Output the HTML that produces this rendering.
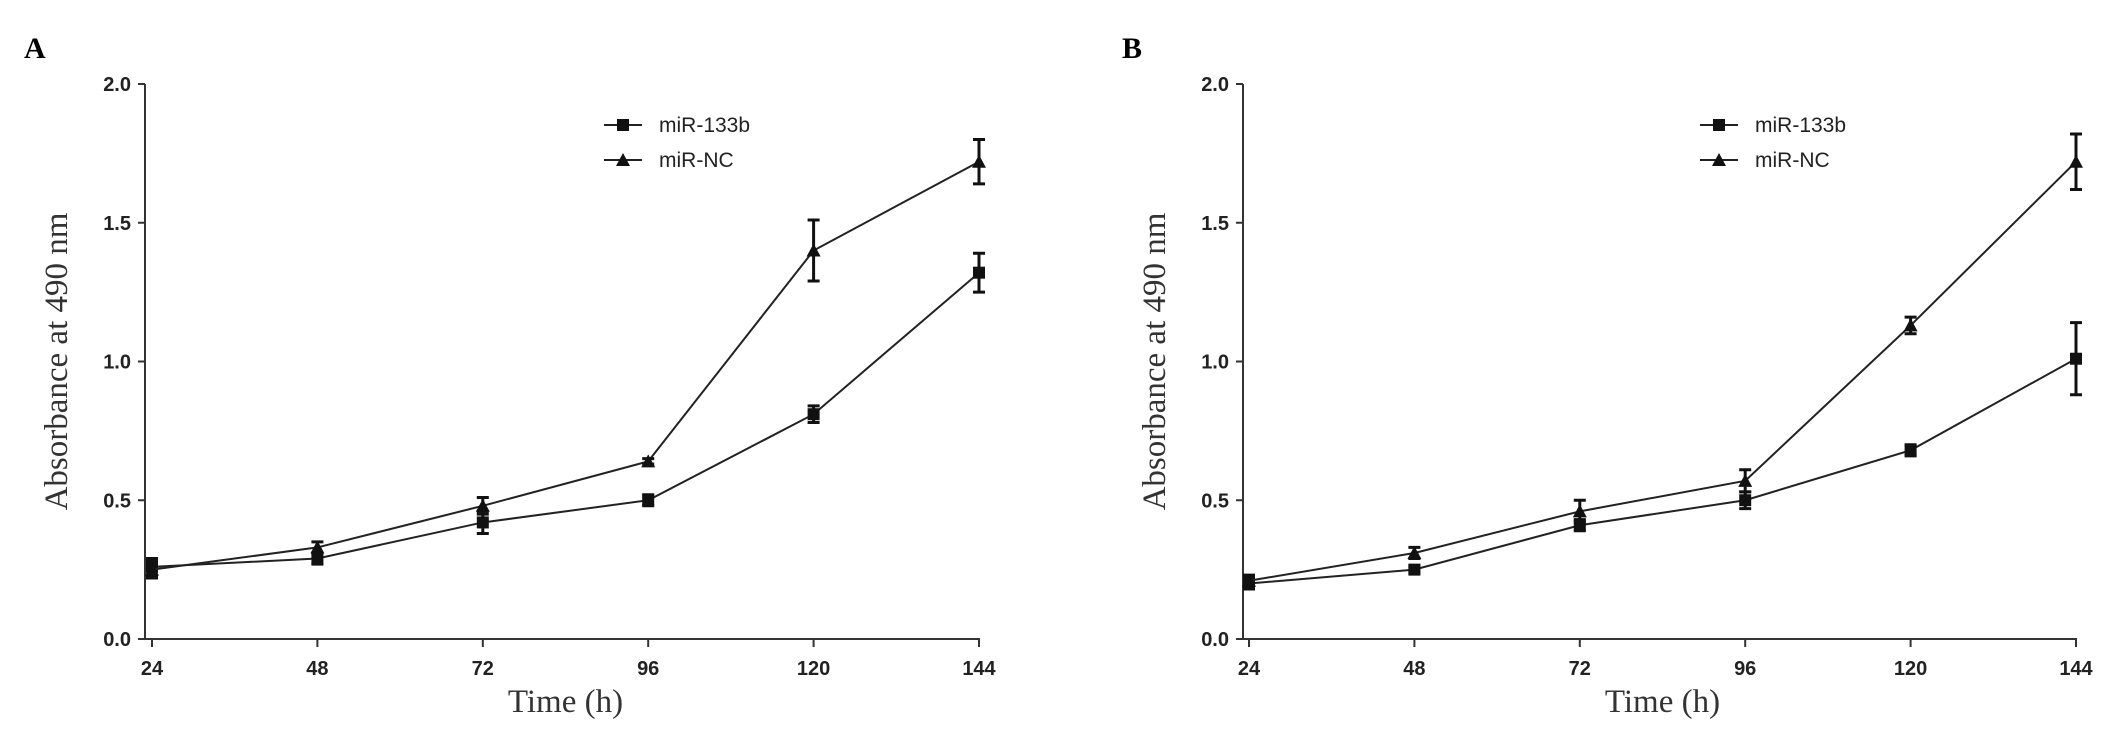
<!DOCTYPE html>
<html><head><meta charset="utf-8"><style>
html,body{margin:0;padding:0;background:#fff;}
svg{display:block;}
.tk{font-family:"Liberation Sans",sans-serif;font-weight:bold;font-size:20px;fill:#222;}
.tt{font-family:"Liberation Serif",serif;font-size:33px;fill:#333;}
.lg{font-family:"Liberation Sans",sans-serif;font-size:21px;fill:#222;}
.pl{font-family:"Liberation Serif",serif;font-weight:bold;font-size:30px;fill:#000;}
</style></head><body>
<svg id="chart" width="2126" height="732" viewBox="0 0 2126 732" xmlns="http://www.w3.org/2000/svg"></svg>
<script>
const categories = [24, 48, 72, 96, 120, 144];
const yTicks = [0.0, 0.5, 1.0, 1.5, 2.0];
const yTickLabels = ["0.0", "0.5", "1.0", "1.5", "2.0"];
const seriesNames = ["miR-133b", "miR-NC"];
const a133b = [0.26, 0.29, 0.42, 0.50, 0.81, 1.32];
const a133bErr = [0.03, 0.02, 0.04, 0.02, 0.03, 0.07];
const aNC = [0.25, 0.33, 0.48, 0.64, 1.40, 1.72];
const aNCErr = [0.03, 0.02, 0.03, 0.01, 0.11, 0.08];
const b133b = [0.20, 0.25, 0.41, 0.50, 0.68, 1.01];
const b133bErr = [0.02, 0.01, 0.02, 0.03, 0.02, 0.13];
const bNC = [0.21, 0.31, 0.46, 0.57, 1.13, 1.72];
const bNCErr = [0.02, 0.02, 0.04, 0.04, 0.03, 0.10];

const svg = document.getElementById('chart');
const NS = 'http://www.w3.org/2000/svg';
function mk(tag, attrs, parent) {
  const e = document.createElementNS(NS, tag);
  for (const k in attrs) e.setAttribute(k, attrs[k]);
  parent.appendChild(e);
  return e;
}

function panel(label, axisX, x0, x1, legX, s1, e1, s2, e2, key) {
  const yTop = 84, yBot = 639;
  const g = mk('g', {}, svg);
  
  
  const xs = v => x0 + (v - 24) / 120 * (x1 - x0);
  const ys = v => yBot - v / 2 * (yBot - yTop);

  const pl = mk('text', {x: axisX - 121, y: 58, class: 'pl'}, g);
  pl.textContent = label;
  
  

  const ya = mk('line', {x1: axisX, y1: yTop, x2: axisX, y2: yBot, stroke: '#333', 'stroke-width': 2}, g);
  
  
  const xa = mk('line', {x1: axisX, y1: yBot, x2: x1 + 1, y2: yBot, stroke: '#333', 'stroke-width': 2}, g);
  
  

  yTicks.forEach((t, i) => {
    mk('line', {x1: axisX - 7, y1: ys(t), x2: axisX, y2: ys(t), stroke: '#333', 'stroke-width': 2}, g);
    const tx = mk('text', {x: axisX - 14, y: ys(t) + 7, class: 'tk', 'text-anchor': 'end'}, g);
    tx.textContent = yTickLabels[i];
    
    
  });
  categories.forEach(c => {
    mk('line', {x1: xs(c), y1: yBot, x2: xs(c), y2: yBot + 8, stroke: '#333', 'stroke-width': 2}, g);
    const tx = mk('text', {x: xs(c), y: yBot + 36, class: 'tk', 'text-anchor': 'middle'}, g);
    tx.textContent = String(c);
    
    
  });

  const yt = mk('text', {x: 0, y: 0, class: 'tt', 'text-anchor': 'middle', transform: `translate(${axisX - 78},${(yTop + yBot) / 2 + 0}) rotate(-90)`}, g);
  yt.textContent = 'Absorbance at 490 nm';
  
  
  const xt = mk('text', {x: (x0 + x1) / 2, y: 712, class: 'tt', 'text-anchor': 'middle'}, g);
  xt.textContent = 'Time (h)';
  
  

  function marker(type, cx, cy, parent) {
    if (type === 0) return mk('rect', {x: cx - 6, y: cy - 6, width: 12, height: 12, fill: '#111'}, parent);
    return mk('polygon', {points: `${cx},${cy - 7} ${cx - 7},${cy + 6} ${cx + 7},${cy + 6}`, fill: '#111'}, parent);
  }

  [[s1, e1, 0], [s2, e2, 1]].forEach(([vals, errs, type]) => {
    const sg = mk('g', {}, g);
    
    
    const pts = vals.map((v, i) => xs(categories[i]) + ',' + ys(v)).join(' ');
    mk('polyline', {points: pts, fill: 'none', stroke: '#222', 'stroke-width': 2}, sg);
    vals.forEach((v, i) => {
      const cx = xs(categories[i]);
      const hi = ys(v + errs[i]), lo = ys(v - errs[i]);
      const eb = mk('path', {d: `M${cx},${hi}V${lo}M${cx - 6},${hi}H${cx + 6}M${cx - 6},${lo}H${cx + 6}`, stroke: '#111', 'stroke-width': 3, fill: 'none'}, sg);
      
      
      const m = marker(type, cx, ys(v), sg);
      
      
    });
  });

  seriesNames.forEach((n, i) => {
    const ly = 125 + i * 35;
    const lg = mk('g', {}, g);
    
    
    mk('line', {x1: legX, y1: ly, x2: legX + 38, y2: ly, stroke: '#222', 'stroke-width': 2}, lg);
    marker(i, legX + 19, ly, lg);
    const t = mk('text', {x: legX + 55, y: ly + 7, class: 'lg'}, lg);
    t.textContent = n;
  });
}

panel('A', 145, 152, 979, 604, a133b, a133bErr, aNC, aNCErr, 'a');
panel('B', 1243, 1249, 2076, 1700, b133b, b133bErr, bNC, bNCErr, 'b');
</script>
</body></html>
